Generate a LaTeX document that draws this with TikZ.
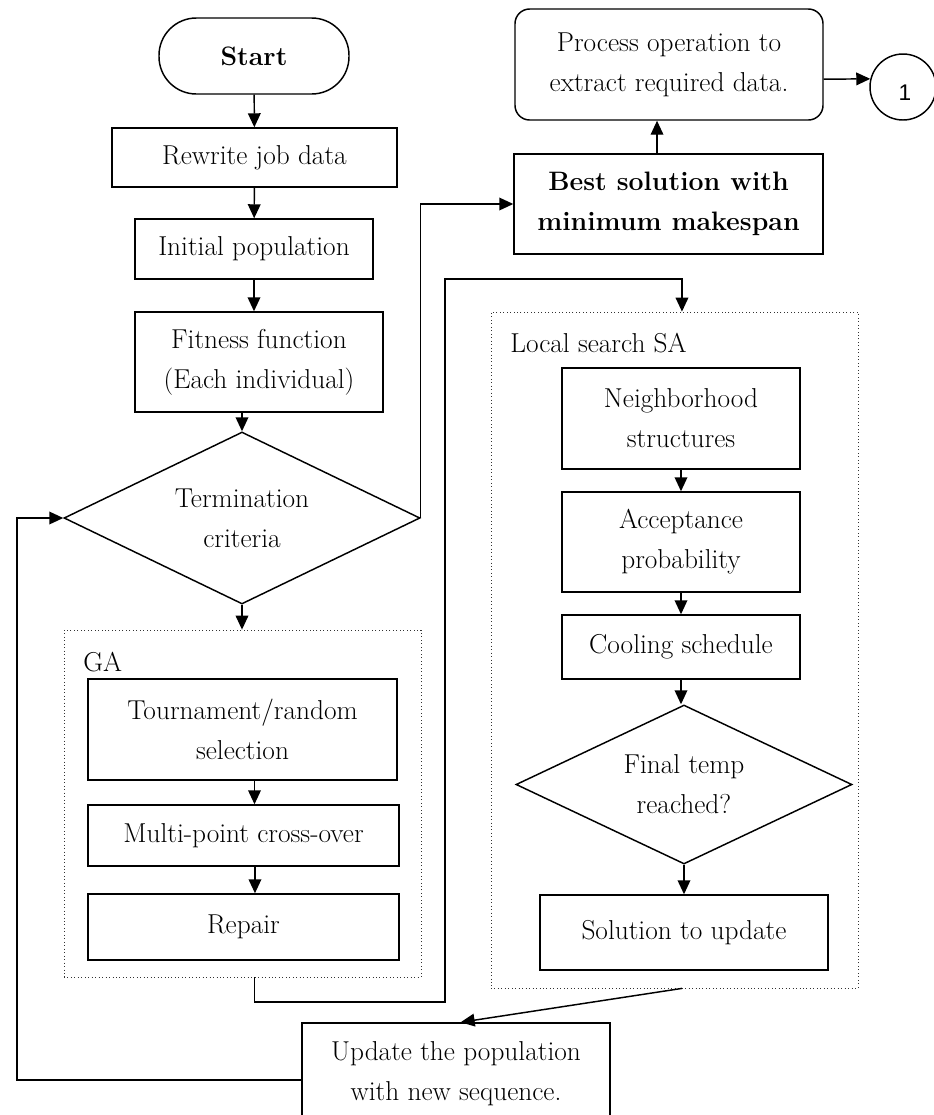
\documentclass[tikz,border=0pt]{standalone}
\usepackage{fontspec}
\newfontfamily\arialf{Liberation Sans}
\usetikzlibrary{shapes.geometric,arrows.meta,calc}
\begin{document}
\begin{tikzpicture}[x=0.75pt,y=-0.75pt,
  txt/.style={font=\fontsize{20.5}{30}\selectfont},
  box/.style={draw,line width=1.1pt,rectangle,inner sep=0pt,align=center,txt},
  dbox/.style={draw,line width=1.1pt,diamond,aspect=2,inner sep=0pt,align=center,txt},
  dotbox/.style={draw=black!80,dotted,line width=0.6pt,rectangle,inner sep=0pt},
  arr/.style={line width=1.1pt,-{Triangle[length=10.5pt,width=9.5pt]}},
  ln/.style={line width=1.1pt}]
\useasboundingbox (0,0) rectangle (934,1115);
\clip (0,0) rectangle (934,1115);
% left column
\node[box,rounded corners=28pt,minimum width=142.5pt,minimum height=57pt,font=\bfseries\fontsize{20}{30}\selectfont] (start) at (254,56) {Start};
\node[box,minimum width=213.75pt,minimum height=44.25pt] (rewrite) at (254.5,157.5) {Rewrite job data};
\node[box,minimum width=178.5pt,minimum height=45pt] (init) at (254,249) {Initial population};
\node[box,minimum width=186pt,minimum height=75pt] (fit) at (259,362) {Fitness function\\(Each individual)};
\node[dbox,minimum width=267pt,minimum height=129pt] (term) at (242,518) {Termination\\criteria};
% GA group
\node[dotbox,minimum width=267.75pt,minimum height=260.25pt] (ga) at (242.5,803.5) {};
\node[txt,anchor=west,inner sep=0pt] (galab) at (83,662) {GA};
\node[box,minimum width=231.75pt,minimum height=75.75pt] (tour) at (242.5,729.5) {Tournament/random\\selection};
\node[box,minimum width=233.25pt,minimum height=45.75pt] (multi) at (243.5,835.5) {Multi-point cross-over};
\node[box,minimum width=233.25pt,minimum height=49.5pt] (rep) at (243.5,927) {Repair};
% top right
\node[box,rounded corners=11pt,minimum width=231pt,minimum height=83.25pt] (proc) at (669,64.5) {Process operation to\\extract required data.};
\node[draw,line width=1.1pt,circle,minimum size=49.5pt,inner sep=0pt] (circ) at (903,87) {};
\node[font=\arialf\fontsize{17}{20}\selectfont,inner sep=0pt] (one) at (905,93) {1};
\node[box,minimum width=231.75pt,minimum height=75pt,font=\bfseries\fontsize{20}{30}\selectfont] (best) at (668.5,204) {Best solution with\\minimum makespan};
% SA group
\node[dotbox,minimum width=275.25pt,minimum height=507pt] (sa) at (674.5,650) {};
\node[txt,anchor=west,inner sep=0pt] (salab) at (510,343) {Local search SA};
\node[box,minimum width=178.5pt,minimum height=75.75pt] (neigh) at (681,418.5) {Neighborhood\\structures};
\node[box,minimum width=178.5pt,minimum height=75pt] (acc) at (681,542) {Acceptance\\probability};
\node[box,minimum width=178.5pt,minimum height=48pt] (cool) at (681,647) {Cooling schedule};
\node[dbox,minimum width=252pt,minimum height=119.25pt] (final) at (684,784.5) {Final temp\\reached?};
\node[box,minimum width=216pt,minimum height=56.25pt] (sol) at (684,932.5) {Solution to update};
% update
\node[box,minimum width=231pt,minimum height=76.5pt] (upd) at (456,1074) {Update the population\\with new sequence.};
% helper coordinates
\coordinate (c1) at (445,1002);
\coordinate (c2) at (445,279);
\coordinate (c3) at (17,518);
% connectors
\draw[arr] (start) -- (rewrite);
\draw[arr] (rewrite) -- (init);
\draw[arr] (init.south) -- (init.south |- fit.north);
\draw[arr] (term.north |- fit.south) -- (term.north);
\draw[arr] (term.south) -- (term.south |- ga.north);
\draw[arr] ([xshift=9pt]tour.south) -- ([xshift=9pt]tour.south |- multi.north);
\draw[arr] ([xshift=8.6pt]multi.south) -- ([xshift=8.6pt]multi.south |- rep.north);
\draw[arr] ([xshift=9pt]ga.south) |- (c1) -- (c2) -| ([xshift=5.6pt]sa.north);
\draw[arr] (term.east) |- (best.west);
\draw[arr] ([xshift=-8.6pt]best.north) -- ([xshift=-8.6pt]best.north |- proc.south);
\draw[arr] ([yshift=-11pt]proc.east) -- (circ.166);
\draw[arr] (neigh) -- (acc);
\draw[arr] (acc) -- (cool);
\draw[arr] (cool.south) -- (cool.south |- final.north);
\draw[arr] (final.south) -- (final.south |- sol.north);
\draw[arr] ([xshift=5.6pt]sa.south) -- ([xshift=3.5pt]upd.north);
\draw[arr] ([yshift=-4.5pt]upd.west) -| (c3) -- (term.west);
\end{tikzpicture}
\end{document}
